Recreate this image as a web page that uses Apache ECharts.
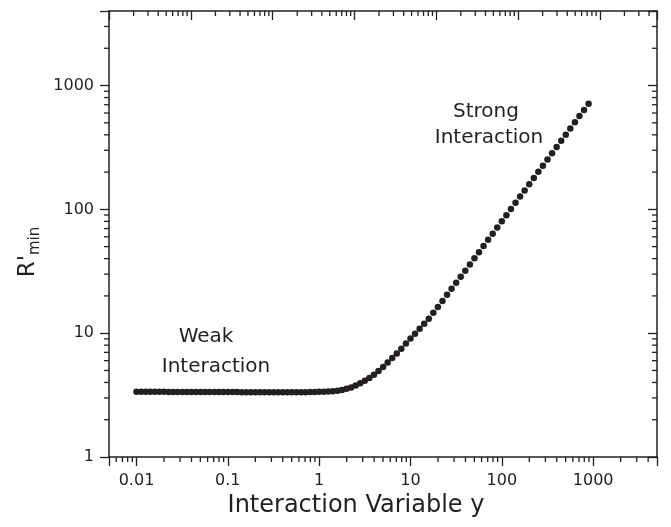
<!DOCTYPE html>
<html>
<head>
<meta charset="utf-8">
<script src="https://cdn.jsdelivr.net/npm/echarts@6/dist/echarts.min.js"></script>
<style>
  html, body { margin: 0; padding: 0; background: #fff; }
  #chart { width: 671px; height: 527px; }
</style>
</head>
<body>
<div id="chart"></div>
<script>
// ---- data ----
var yVar = [
  0.01, 0.01122, 0.01259, 0.01413, 0.01585, 0.01778, 0.01995, 0.02239, 0.02512, 0.02818,
  0.03162, 0.03548, 0.03981, 0.04467, 0.05012, 0.05623, 0.0631, 0.07079, 0.07943, 0.08913,
  0.1, 0.1122, 0.1259, 0.1413, 0.1585, 0.1778, 0.1995, 0.2239, 0.2512, 0.2818,
  0.3162, 0.3548, 0.3981, 0.4467, 0.5012, 0.5623, 0.631, 0.7079, 0.7943, 0.8913,
  1, 1.122, 1.259, 1.413, 1.585, 1.778, 1.995, 2.239, 2.512, 2.818,
  3.162, 3.548, 3.981, 4.467, 5.012, 5.623, 6.31, 7.079, 7.943, 8.913,
  10, 11.22, 12.59, 14.13, 15.85, 17.78, 19.95, 22.39, 25.12, 28.18,
  31.62, 35.48, 39.81, 44.67, 50.12, 56.23, 63.1, 70.79, 79.43, 89.13,
  100, 112.2, 125.9, 141.3, 158.5, 177.8, 199.5, 223.9, 251.2, 281.8,
  316.2, 354.8, 398.1, 446.7, 501.2, 562.3, 631, 707.9, 794.3, 891.3
];
var rMin = [
  3.37, 3.37, 3.36, 3.36, 3.36, 3.36, 3.36, 3.35, 3.35, 3.35,
  3.35, 3.35, 3.35, 3.35, 3.35, 3.35, 3.35, 3.35, 3.35, 3.35,
  3.35, 3.35, 3.35, 3.34, 3.34, 3.34, 3.34, 3.34, 3.34, 3.34,
  3.34, 3.34, 3.34, 3.34, 3.34, 3.34, 3.34, 3.34, 3.35, 3.35,
  3.36, 3.37, 3.38, 3.40, 3.43, 3.48, 3.55, 3.65, 3.78, 3.94,
  4.12, 4.35, 4.62, 4.95, 5.33, 5.8, 6.3, 6.86, 7.5, 8.25,
  9.04, 9.9, 10.85, 11.93, 13.1, 14.6, 16.3, 18.2, 20.4, 22.8,
  25.5, 28.6, 32.0, 35.9, 40.2, 45.1, 50.6, 56.7, 63.6, 71.4,
  80.1, 89.8, 100.7, 113, 126.8, 142.2, 159.6, 179, 201, 225.4,
  253, 283.8, 318.5, 357.4, 401, 449.8, 504.8, 566.3, 635.4, 713
];

// ---- axis ranges / tick labels ----
var xRange    = [0.005, 5000];
var xTopRange = [0.001, 5000];   // top frame axis has its own (shorter) decades
var yRange    = [1, 4000];
var xTickLabels = ["0.01", "0.1", "1", "10", "100", "1000"];
var yTickLabels = ["1", "10", "100", "1000"];
var decades   = [0.001, 0.01, 0.1, 1, 10, 100, 1000];
var minorMult = [2, 3, 4, 5, 6, 7, 8, 9];

var INK  = "#231f20";
var FONT = "DejaVu Sans";

// label lookup: only the listed decades get text
function labelFor(list) {
  return function (v) {
    for (var i = 0; i < list.length; i++) {
      if (Math.abs(Math.log10(v) - Math.log10(parseFloat(list[i]))) < 1e-6) return list[i];
    }
    return "";
  };
}

// minor tick values inside an open range
function minorTicks(range) {
  var out = [];
  decades.forEach(function (d) {
    minorMult.forEach(function (m) {
      var v = +(d * m).toPrecision(6);
      if (v > range[0] && v < range[1]) out.push(v);
    });
  });
  return out;
}

// custom series that draws minor ticks through the axis scales
function minorSeries(xi, yi, vals, fixed, onX, dx, dy) {
  return {
    type: "custom",
    xAxisIndex: xi,
    yAxisIndex: yi,
    silent: true,
    clip: false,
    z: 5,
    data: vals.map(function (v) { return onX ? [v, fixed] : [fixed, v]; }),
    renderItem: function (params, api) {
      var p = api.coord([api.value(0), api.value(1)]);
      return {
        type: "line",
        shape: { x1: p[0], y1: p[1], x2: p[0] + dx, y2: p[1] + dy },
        style: { stroke: INK, lineWidth: 1.3 }
      };
    }
  };
}

var axisLine = { show: true, lineStyle: { color: INK, width: 1.5 } };
var majorTick = function (inside) {
  return { show: true, inside: inside, length: 9, lineStyle: { color: INK, width: 1.3 } };
};

var chart = echarts.init(document.getElementById("chart"));
chart.setOption({
  animation: false,
  backgroundColor: "#fff",
  grid: { left: 109, right: 14, top: 11, bottom: 70, containLabel: false },
  xAxis: [{
    type: "log", logBase: 10, min: xRange[0], max: xRange[1],
    position: "bottom",
    axisLine: axisLine, axisTick: majorTick(false), splitLine: { show: false },
    axisLabel: { formatter: labelFor(xTickLabels), color: INK, fontFamily: FONT, fontSize: 16, margin: 16 },
    name: "Interaction Variable y", nameLocation: "middle", nameGap: 34,
    nameTextStyle: { color: INK, fontFamily: FONT, fontSize: 24, padding: [0, 54, 0, 0] }
  }, {
    type: "log", logBase: 10, min: xTopRange[0], max: xTopRange[1],
    position: "top",
    axisLine: axisLine, axisTick: majorTick(true), splitLine: { show: false },
    axisLabel: { show: false }
  }],
  yAxis: [{
    type: "log", logBase: 10, min: yRange[0], max: yRange[1],
    position: "left",
    axisLine: axisLine, axisTick: majorTick(false), splitLine: { show: false },
    axisLabel: { formatter: labelFor(yTickLabels), color: INK, fontFamily: FONT, fontSize: 16, margin: 15 },
    name: "{r|R'}{s|min}", nameLocation: "middle", nameGap: 64,
    nameTextStyle: {
      color: INK, fontFamily: FONT, padding: [0, 36, 0, 0],
      rich: {
        r: { fontSize: 23, fontFamily: FONT, color: INK, lineHeight: 26, verticalAlign: "top" },
        s: { fontSize: 15, fontFamily: FONT, color: INK, lineHeight: 15, padding: [18, 0, 0, 0], verticalAlign: "bottom" }
      }
    }
  }, {
    type: "log", logBase: 10, min: yRange[0], max: yRange[1],
    position: "right",
    axisLine: axisLine, axisTick: majorTick(true), splitLine: { show: false },
    axisLabel: { show: false }
  }],
  series: [
    {
      type: "scatter",
      xAxisIndex: 0, yAxisIndex: 0,
      symbol: "circle", symbolSize: 6.5,
      itemStyle: { color: INK, opacity: 1 },
      z: 10,
      data: yVar.map(function (x, i) { return [x, rMin[i]]; })
    },
    minorSeries(0, 0, minorTicks(xRange), yRange[0], true, 0, 5),      // bottom, outward
    minorSeries(1, 0, minorTicks(xTopRange), yRange[1], true, 0, 5),   // top, inward
    minorSeries(0, 0, minorTicks(yRange), xRange[0], false, -5, 0),    // left, outward
    minorSeries(0, 0, minorTicks(yRange), xRange[1], false, -5, 0)     // right, inward
  ],
  graphic: [
    { type: "text", x: 206, y: 337, style: { text: "Weak", fontSize: 20, fontFamily: FONT, fill: INK, align: "center", verticalAlign: "middle" } },
    { type: "text", x: 216, y: 367, style: { text: "Interaction", fontSize: 20, fontFamily: FONT, fill: INK, align: "center", verticalAlign: "middle" } },
    { type: "text", x: 486, y: 112, style: { text: "Strong", fontSize: 20, fontFamily: FONT, fill: INK, align: "center", verticalAlign: "middle" } },
    { type: "text", x: 489, y: 138, style: { text: "Interaction", fontSize: 20, fontFamily: FONT, fill: INK, align: "center", verticalAlign: "middle" } }
  ]
});
</script>
</body>
</html>
